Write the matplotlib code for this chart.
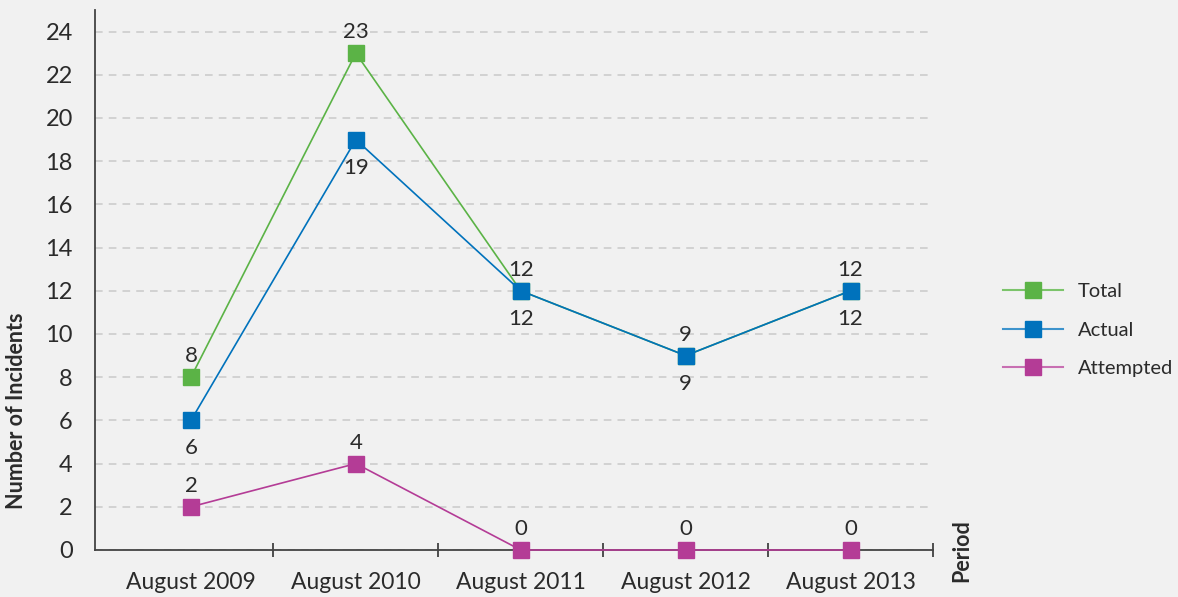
import matplotlib

matplotlib.use("Agg")

import matplotlib.pyplot as plt

periods = ["August 2009", "August 2010", "August 2011", "August 2012", "August 2013"]
total = [8, 23, 12, 9, 12]
actual = [6, 19, 12, 9, 12]
attempted = [2, 4, 0, 0, 0]

BG = "#f1f1f1"
TEXT = "#2b2b2b"
GREEN = "#5bb346"
BLUE = "#0072bc"
MAGENTA = "#b43c96"

plt.rcParams["font.family"] = ["Lato", "DejaVu Sans"]

fig = plt.figure(figsize=(11.78, 5.97), dpi=100)
fig.patch.set_facecolor(BG)
ax = fig.add_axes([95 / 1178, 47 / 597, (933 - 95) / 1178, 540 / 597])
ax.set_facecolor(BG)

x = list(range(len(periods)))
series = [
    ("Total", total, GREEN, "#7cc46b", "above"),
    ("Actual", actual, BLUE, "#3d93cc", "below"),
    ("Attempted", attempted, MAGENTA, "#c86fb2", "above"),
]

handles = []
for name, values, color, light, where in series:
    ax.plot(x, values, color=color, lw=1.2, marker="s", ms=11.5,
            mec=color, mfc=color, zorder=3, clip_on=False)
    h, = ax.plot([], [], color=light, lw=1.5, marker="s", ms=11.5, mec=color, mfc=color)
    handles.append((h, name))
    for i, v in zip(x, values):
        dy = 21 if where == "above" else -28
        ax.annotate(str(v), (i, v), xytext=(0, dy), textcoords="offset pixels",
                    ha="center", va="center", fontsize=16, color=TEXT, zorder=4)

ax.set_xlim(-0.582, 4.5)
ax.set_ylim(0, 25)
ax.set_yticks(range(0, 25, 2))
ax.set_xticks(x)
ax.set_xticklabels(periods)
ax.set_xticks([0.5, 1.5, 2.5, 3.5, 4.5], minor=True)
ax.tick_params(axis="x", which="major", length=0, pad=16, labelsize=16.5, colors=TEXT)
ax.tick_params(axis="x", which="minor", direction="inout", length=10, width=1.2, color="#333333")
ax.tick_params(axis="y", length=0, pad=16, labelsize=17, colors=TEXT)

ax.grid(axis="y", color="#c9c9c9", linestyle=(0, (5, 4)), lw=1.1)
ax.set_axisbelow(True)
for side in ["top", "right"]:
    ax.spines[side].set_visible(False)
for side in ["left", "bottom"]:
    ax.spines[side].set_color("#444444")
    ax.spines[side].set_linewidth(1.3)

fig.text(17 / 1178, 1 - 411 / 597, "Number of Incidents", rotation=90, ha="center", va="center",
         fontsize=15.5, fontweight="bold", color=TEXT)
fig.text(962 / 1178, 1 - 551 / 597, "Period", rotation=90, ha="center", va="center",
         fontsize=15.5, fontweight="bold", color=TEXT)

fig.legend([h for h, _ in handles], [n for _, n in handles], loc="center left",
           bbox_to_anchor=(1003 / 1178, 1 - 330 / 597), frameon=False, fontsize=14.5,
           borderpad=0, borderaxespad=0, handlelength=3.0, labelspacing=1.05,
           handletextpad=0.7, labelcolor=TEXT)

fig.savefig("out.png", dpi=100, facecolor=BG)
